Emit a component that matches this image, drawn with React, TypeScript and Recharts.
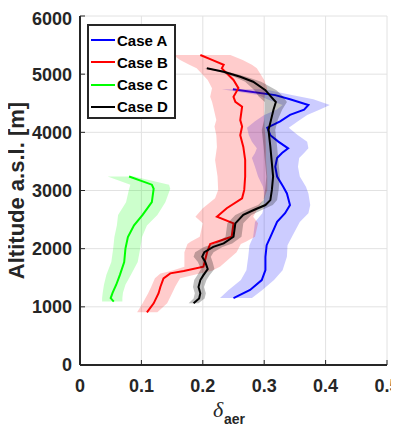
import React from 'react';
import { ScatterChart, Scatter, XAxis, YAxis, CartesianGrid, Legend } from 'recharts';

const xTicks = [0, 0.1, 0.2, 0.3, 0.4, 0.5];
const yTicks = [0, 1000, 2000, 3000, 4000, 5000, 6000];

const caseNames = ['Case A', 'Case B', 'Case C', 'Case D'];
const lineColors = ['#0000ff', '#ff0000', '#00ff00', '#000000'];
const bandOpacity = [0.2, 0.2, 0.2, 0.25];

// Case A (blue)
const altA = [4740, 4640, 4570, 4470, 4390, 4300, 4190, 4080, 3950, 3840, 3725, 3645, 3560, 3410, 3240, 3065, 2950, 2750, 2610, 2460, 2200, 2060, 1860, 1630, 1460, 1290, 1150];
const meanA = [0.249, 0.318, 0.342, 0.372, 0.365, 0.342, 0.326, 0.305, 0.31, 0.323, 0.339, 0.329, 0.321, 0.318, 0.321, 0.331, 0.337, 0.342, 0.334, 0.321, 0.31, 0.304, 0.302, 0.302, 0.296, 0.277, 0.25];
const loA = [0.231, 0.29, 0.305, 0.33, 0.32, 0.3, 0.285, 0.272, 0.275, 0.28, 0.288, 0.285, 0.28, 0.285, 0.29, 0.298, 0.3, 0.3, 0.297, 0.285, 0.282, 0.276, 0.274, 0.271, 0.262, 0.242, 0.228];
const hiA = [0.3, 0.345, 0.38, 0.407, 0.39, 0.37, 0.355, 0.34, 0.355, 0.37, 0.372, 0.365, 0.357, 0.355, 0.358, 0.368, 0.372, 0.375, 0.372, 0.358, 0.345, 0.338, 0.337, 0.33, 0.316, 0.297, 0.28];

// Case B (red)
const altB = [5330, 5245, 5160, 5100, 4900, 4760, 4610, 4525, 4440, 4210, 4100, 3950, 3750, 3525, 3240, 3010, 2865, 2695, 2550, 2435, 2205, 2120, 2080, 1940, 1690, 1615, 1575, 1490, 1345, 1235, 1060, 905];
const meanB = [0.196, 0.215, 0.234, 0.231, 0.25, 0.258, 0.25, 0.253, 0.264, 0.261, 0.264, 0.261, 0.266, 0.269, 0.269, 0.2675, 0.264, 0.239, 0.223, 0.25, 0.247, 0.223, 0.212, 0.207, 0.201, 0.169, 0.147, 0.136, 0.131, 0.128, 0.12, 0.109];
const loB = [0.152, 0.163, 0.178, 0.19, 0.208, 0.215, 0.212, 0.215, 0.217, 0.222, 0.219, 0.222, 0.223, 0.22, 0.224, 0.225, 0.22, 0.2, 0.188, 0.2, 0.195, 0.18, 0.175, 0.17, 0.17, 0.148, 0.131, 0.122, 0.116, 0.111, 0.102, 0.093];
const hiB = [0.245, 0.265, 0.28, 0.288, 0.3, 0.305, 0.3, 0.3, 0.3, 0.3, 0.3, 0.302, 0.303, 0.303, 0.305, 0.305, 0.3, 0.29, 0.282, 0.29, 0.285, 0.27, 0.262, 0.255, 0.228, 0.214, 0.195, 0.163, 0.155, 0.15, 0.142, 0.126];

// Case C (green)
const altC = [3240, 3100, 3030, 2800, 2580, 2400, 2200, 2000, 1770, 1550, 1380, 1240, 1150, 1090];
const meanC = [0.08, 0.117, 0.12, 0.117, 0.102, 0.088, 0.078, 0.074, 0.072, 0.065, 0.059, 0.053, 0.05, 0.055];
const loC = [0.045, 0.082, 0.08, 0.075, 0.062, 0.06, 0.056, 0.054, 0.051, 0.043, 0.039, 0.037, 0.036, 0.036];
const hiC = [0.088, 0.145, 0.147, 0.139, 0.126, 0.109, 0.101, 0.098, 0.094, 0.083, 0.074, 0.07, 0.069, 0.069];

// Case D (black)
const altD = [5100, 5040, 4955, 4870, 4725, 4615, 4520, 4385, 4210, 4040, 3755, 3470, 3240, 3010, 2835, 2750, 2665, 2580, 2435, 2205, 2090, 2030, 1940, 1860, 1770, 1650, 1545, 1460, 1340, 1235, 1145, 1060];
const meanD = [0.2065, 0.234, 0.261, 0.282, 0.302, 0.311, 0.319, 0.315, 0.311, 0.307, 0.31, 0.3125, 0.3145, 0.3125, 0.31, 0.302, 0.283, 0.266, 0.253, 0.25, 0.234, 0.217, 0.2025, 0.199, 0.204, 0.208, 0.201, 0.196, 0.193, 0.196, 0.194, 0.185];
const loD = [0.2025, 0.227, 0.251, 0.269, 0.284, 0.291, 0.301, 0.301, 0.3, 0.296, 0.299, 0.3015, 0.3035, 0.3015, 0.299, 0.29, 0.27, 0.253, 0.24, 0.237, 0.22, 0.202, 0.1875, 0.185, 0.192, 0.197, 0.191, 0.186, 0.184, 0.187, 0.185, 0.177];
const hiD = [0.2105, 0.241, 0.271, 0.295, 0.32, 0.331, 0.337, 0.329, 0.322, 0.318, 0.321, 0.3235, 0.3255, 0.3235, 0.321, 0.314, 0.296, 0.279, 0.266, 0.263, 0.248, 0.232, 0.2175, 0.213, 0.216, 0.219, 0.211, 0.206, 0.202, 0.205, 0.203, 0.193];

type Pt = { x: number; y: number };
const toLine = (alt: number[], v: number[]): Pt[] => alt.map((a, i) => ({ x: v[i], y: a }));
const toBand = (alt: number[], lo: number[], hi: number[]): Pt[] => [
  ...alt.map((a, i) => ({ x: lo[i], y: a })),
  ...alt.map((a, i) => ({ x: hi[i], y: a })).reverse(),
];

const series = [
  { line: toLine(altA, meanA), band: toBand(altA, loA, hiA) },
  { line: toLine(altB, meanB), band: toBand(altB, loB, hiB) },
  { line: toLine(altC, meanC), band: toBand(altC, loC, hiC) },
  { line: toLine(altD, meanD), band: toBand(altD, loD, hiD) },
];

const FONT = '"Liberation Sans", Arial, Helvetica, sans-serif';
const AXIS_COLOR = '#262626';

const NoShape = () => <g />;

const LegendBox = () => (
  <div
    style={{
      position: 'relative',
      width: 89,
      height: 95,
      boxSizing: 'border-box',
      border: `2px solid ${AXIS_COLOR}`,
      background: '#ffffff',
      fontFamily: FONT,
    }}
  >
    {caseNames.map((name, i) => (
      <div
        key={name}
        style={{
          position: 'absolute',
          left: 0,
          top: 3 + i * 22.3,
          height: 22,
          width: 85,
          display: 'flex',
          alignItems: 'center',
        }}
      >
        <div style={{ marginLeft: 2, width: 24, height: 2, background: lineColors[i] }} />
        <span style={{ marginLeft: 2, fontSize: 15, fontWeight: 'bold', color: '#000', whiteSpace: 'nowrap' }}>{name}</span>
      </div>
    ))}
  </div>
);

const XLabel = (props: any) => {
  const vb = props.viewBox || { x: 72, y: 357, width: 307, height: 61 };
  const cx = vb.x + vb.width / 2;
  return (
    <g>
      <text x={cx - 20.5} y={vb.y + 52} fontFamily='"Liberation Serif", "DejaVu Serif", serif' fontStyle="italic" fontSize={22} fill={AXIS_COLOR}>
        δ
      </text>
      <text x={cx - 9.5} y={vb.y + 59} fontFamily={FONT} fontWeight="bold" fontSize={14} fill={AXIS_COLOR}>
        aer
      </text>
    </g>
  );
};

const YLabel = (props: any) => {
  const vb = props.viewBox || { x: 0, y: 8, width: 72, height: 349 };
  const x = vb.x + 16;
  const y = vb.y + vb.height / 2;
  return (
    <text x={x} y={y} transform={`rotate(-90, ${x}, ${y})`} textAnchor="middle" fontFamily={FONT} fontWeight="bold" fontSize={22} fill={AXIS_COLOR}>
      Altitude a.s.l. [m]
    </text>
  );
};

const tickStyle = { fill: AXIS_COLOR, fontSize: 18, fontWeight: 'bold', fontFamily: FONT };

export default function App() {
  return (
    <>
      <style>{`.recharts-surface { overflow: visible; }`}</style>
      <ScatterChart width={391} height={418} margin={{ top: 8, right: 12, bottom: 0, left: 0 }}>
        <CartesianGrid stroke="#e2e2e2" strokeWidth={1} />
        <XAxis
          xAxisId={0}
          type="number"
          dataKey="x"
          domain={[0, 0.5]}
          ticks={xTicks}
          height={61}
          tick={tickStyle}
          tickSize={-5}
          tickMargin={19}
          axisLine={{ stroke: AXIS_COLOR, strokeWidth: 2 }}
          tickLine={{ stroke: AXIS_COLOR, strokeWidth: 1 }}
          allowDataOverflow
          label={(p: any) => <XLabel {...p} />}
        />
        <XAxis
          xAxisId="top"
          orientation="top"
          type="number"
          dataKey="x"
          domain={[0, 0.5]}
          ticks={xTicks}
          height={0}
          tick={false}
          tickSize={-5}
          axisLine={{ stroke: AXIS_COLOR, strokeWidth: 2 }}
          tickLine={{ stroke: AXIS_COLOR, strokeWidth: 1 }}
          allowDataOverflow
        />
        <YAxis
          yAxisId={0}
          type="number"
          dataKey="y"
          domain={[0, 6000]}
          ticks={yTicks}
          width={72}
          tick={tickStyle}
          tickSize={-5}
          tickMargin={13}
          axisLine={{ stroke: AXIS_COLOR, strokeWidth: 2 }}
          tickLine={{ stroke: AXIS_COLOR, strokeWidth: 1 }}
          allowDataOverflow
          label={(p: any) => <YLabel {...p} />}
        />
        <YAxis
          yAxisId="right"
          orientation="right"
          type="number"
          dataKey="y"
          domain={[0, 6000]}
          ticks={yTicks}
          width={0}
          tick={false}
          tickSize={-5}
          axisLine={{ stroke: AXIS_COLOR, strokeWidth: 2 }}
          tickLine={{ stroke: AXIS_COLOR, strokeWidth: 1 }}
          allowDataOverflow
        />
        {series.map((s, i) => [
          <Scatter
            key={`band-${i}`}
            data={s.band}
            fill={lineColors[i]}
            line={{ fill: lineColors[i], fillOpacity: bandOpacity[i], stroke: 'none' }}
            lineType="joint"
            shape={NoShape}
            legendType="none"
            isAnimationActive={false}
          />,
          <Scatter
            key={`line-${i}`}
            data={s.line}
            fill={lineColors[i]}
            line={{ stroke: lineColors[i], strokeWidth: 2, fill: 'none' }}
            lineType="joint"
            shape={NoShape}
            legendType="none"
            isAnimationActive={false}
          />,
        ])}
        <Legend
          layout="vertical"
          align="center"
          verticalAlign="middle"
          wrapperStyle={{ left: 79, top: 16, width: 89, height: 95 }}
          content={() => <LegendBox />}
        />
      </ScatterChart>
    </>
  );
}
